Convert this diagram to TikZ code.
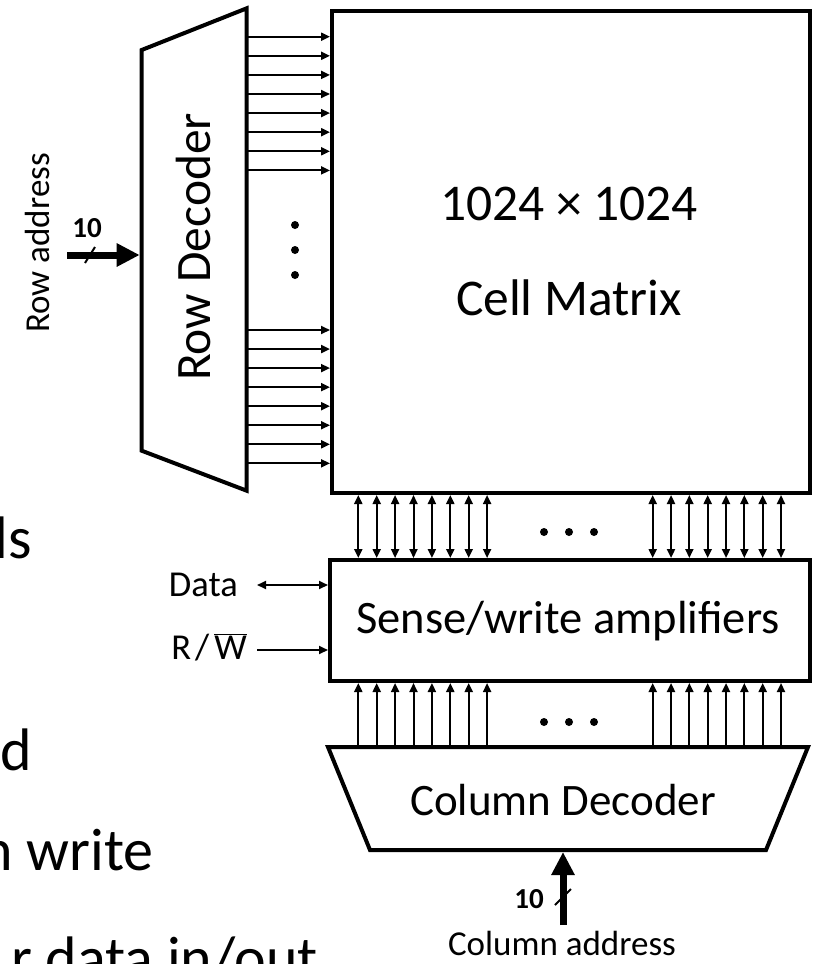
\documentclass[tikz,border=0pt]{standalone}
\usepackage{fontspec}
\setmainfont{Carlito}
\usetikzlibrary{arrows.meta}
\begin{document}
\begin{tikzpicture}[x=1pt,y=-1pt,
  box/.style={line width=4pt, draw=black},
  thinarr/.style={line width=2pt, -{Triangle[length=9pt,width=8pt]}},
  bidir/.style={line width=2pt, {Triangle[length=9pt,width=8pt]}-{Triangle[length=9pt,width=8pt]}},
  thickarr/.style={line width=7pt, -{Triangle[length=23pt,width=22pt]}},
  slash/.style={line width=2pt},
  lbl/.style={font=\fontsize{35}{42}\selectfont, inner sep=0pt},
  big/.style={font=\fontsize{47}{56}\selectfont, inner sep=0pt},
  bullet/.style={font=\fontsize{60}{72}\selectfont, inner sep=0pt},
  num/.style={font=\fontsize{29}{34}\selectfont\bfseries, inner sep=0pt},
  dotnode/.style={circle, fill=black, inner sep=0pt, minimum size=8pt}
]
\useasboundingbox (0,0) rectangle (827,964);
\clip (0,0) rectangle (827,964);

% background bullet text (cut off)
\node[bullet, anchor=base east] (b1) at (32,558) {ls};
\node[bullet, anchor=base east] (b2) at (32,770) {d};
\node[bullet, anchor=base east] (b3) at (154,870) {n write};
\node[bullet, anchor=base east] (b4) at (318,978) {r data in/out};

% cell matrix
\node[box, anchor=north west, minimum width=478pt, minimum height=482pt, inner sep=0pt] (cell) at (330,9) {};
\node[big, font=\fontsize{51.5}{60}\selectfont, anchor=base] (t1) at (569,220) {1024 × 1024};
\node[big, font=\fontsize{51.5}{60}\selectfont, anchor=base] (t2) at (569,315) {Cell Matrix};

% row decoder
\coordinate (rd1) at (141.7,50);
\coordinate (rd2) at (246.7,8.3);
\coordinate (rd3) at (246.7,490.7);
\coordinate (rd4) at (141.7,450.7);
\draw[box, line join=miter] (rd1) -- (rd2) -- (rd3) -- (rd4) -- cycle;
\node[big, font=\fontsize{49.5}{58}\selectfont, rotate=90] (rdtext) at (193,247) {Row Decoder};

\foreach \i in {0,...,7}{
  \coordinate (ra\i) at (246.7,36.7+19.1*\i);
  \draw[thinarr] (ra\i) -- (cell.west |- ra\i);
  \coordinate (rb\i) at (246.7,330+19.05*\i);
  \draw[thinarr] (rb\i) -- (cell.west |- rb\i);
}
\node[dotnode] (vd1) at (295,225) {};
\node[dotnode] (vd2) at (295,250) {};
\node[dotnode] (vd3) at (295,275) {};

% row address
\coordinate (rain) at (67,255);
\coordinate (raend) at (139.7,255);
\draw[thickarr] (rain) -- (raend);
\draw[slash] (85,263) -- (95,247);
\node[num] (n1) at (87,228) {10};
\node[lbl, rotate=90] (ratext) at (37,243) {Row address};

% sense amplifiers
\node[box, anchor=north west, minimum width=480pt, minimum height=121pt, inner sep=0pt] (sense) at (328,558) {};
\node[big, font=\fontsize{46.5}{56}\selectfont] (stext) at (568,621) {Sense/write amplifiers};

\foreach \i in {0,...,7}{
  \coordinate (ca\i) at (358.3+18.4*\i,0);
  \coordinate (cb\i) at (652.7+18.33*\i,0);
  \draw[bidir] (cell.south -| ca\i) -- (sense.north -| ca\i);
  \draw[bidir] (cell.south -| cb\i) -- (sense.north -| cb\i);
}
\node[dotnode] (hd1) at (544,532) {};
\node[dotnode] (hd2) at (569,532) {};
\node[dotnode] (hd3) at (594,532) {};

% data and R/W
\coordinate (din) at (257,585);
\coordinate (rwin) at (257,650);
\draw[bidir] (din) -- (sense.west |- din);
\draw[thinarr] (rwin) -- (sense.west |- rwin);
\node[lbl, font=\fontsize{36.5}{42}\selectfont, anchor=base east] (dtext) at (238,596) {Data};
\node[lbl, font=\fontsize{36.5}{42}\selectfont, anchor=base east] (rwtext) at (247,659) {R\kern4pt/\kern5pt$\overline{\mbox{W}}$};

% column decoder
\coordinate (cd1) at (328,747);
\coordinate (cd2) at (808,747);
\coordinate (cd3) at (766,850);
\coordinate (cd4) at (370,850);
\coordinate (cdtop) at (568,745);
\draw[box, line join=miter] (cd1) -- (cd2) -- (cd3) -- (cd4) -- cycle;
\node[big, font=\fontsize{45}{54}\selectfont, anchor=base] (cdtext) at (563,815) {Column Decoder};

\foreach \i in {0,...,7}{
  \draw[thinarr] (cdtop -| ca\i) -- (sense.south -| ca\i);
  \draw[thinarr] (cdtop -| cb\i) -- (sense.south -| cb\i);
}
\node[dotnode] (hd4) at (544,722) {};
\node[dotnode] (hd5) at (569,722) {};
\node[dotnode] (hd6) at (594,722) {};

% column address
\coordinate (cain) at (563,925);
\coordinate (caend) at (563,852);
\draw[thickarr] (cain) -- (caend);
\draw[slash] (555,905) -- (571,889);
\node[num] (n2) at (529,899) {10};
\node[lbl, anchor=base] (catext) at (562,955) {Column address};
\end{tikzpicture}
\end{document}
